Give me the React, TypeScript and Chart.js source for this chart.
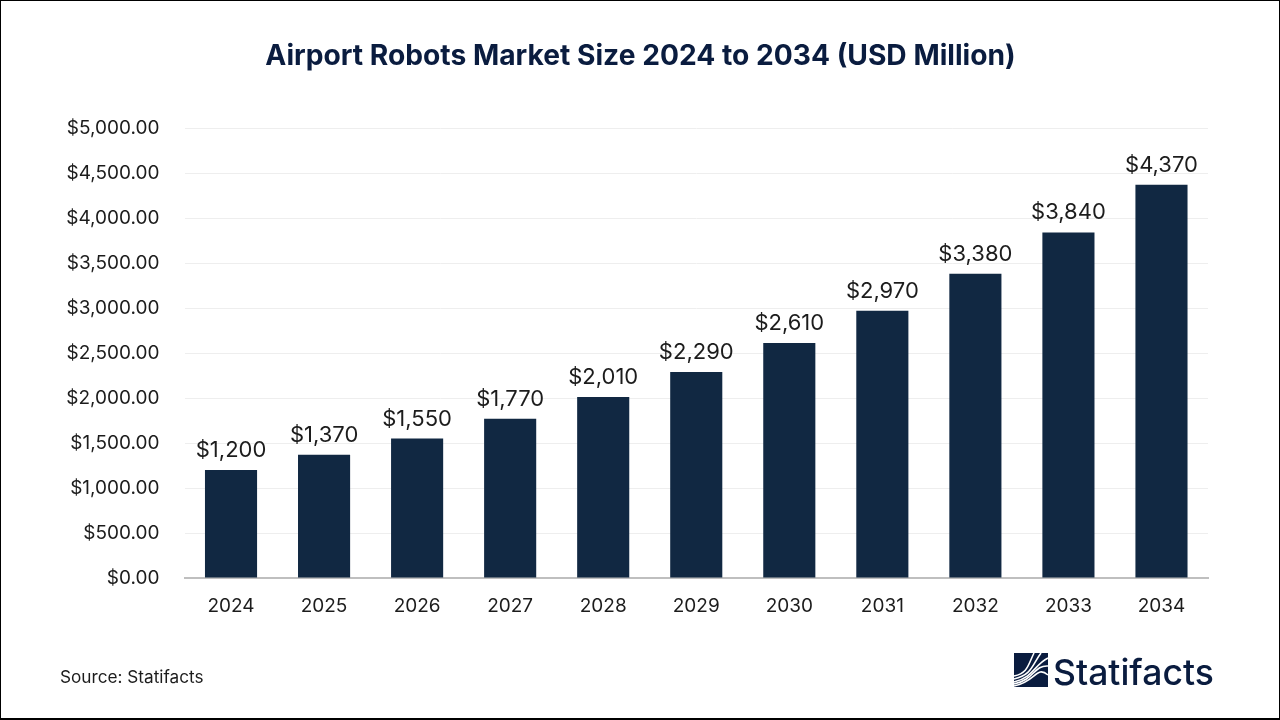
import React, { useEffect, useRef } from "react";
import { Chart, registerables } from "chart.js";

Chart.register(...registerables);

const titleText = "Airport Robots Market Size 2024 to 2034 (USD Million)";
const sourceText = "Source: Statifacts";
const brandText = "Statifacts";
const categories = ["2024", "2025", "2026", "2027", "2028", "2029", "2030", "2031", "2032", "2033", "2034"];
const marketSize = [1200, 1370, 1550, 1770, 2010, 2290, 2610, 2970, 3380, 3840, 4370];
const yMax = 5000;
const yStep = 500;

const FONT = "Inter, 'Noto Sans', sans-serif";
const NAVY = "#0a1c3f";
const BAR = "#112842";
const TEXT = "#1c1c1c";

const money = (v: number) => "$" + v.toLocaleString("en-US");
const moneyDec = (v: number) =>
  "$" + v.toLocaleString("en-US", { minimumFractionDigits: 2, maximumFractionDigits: 2 });

const overlayPlugin = {
  id: "overlay",
  afterDatasetsDraw(chart: any) {
    const { ctx, scales } = chart;
    ctx.save();
    ctx.textBaseline = "alphabetic";
    // title, centred on the page rather than on the plot
    ctx.fillStyle = NAVY;
    ctx.font = `bold 28.2px ${FONT}`;
    ctx.textAlign = "center";
    ctx.fillText(titleText, 640.5, 65);
    // value labels
    ctx.fillStyle = TEXT;
    ctx.font = `22px ${FONT}`;
    marketSize.forEach((v, i) => {
      ctx.fillText(money(v), scales.x.getPixelForValue(i), scales.y.getPixelForValue(v) - 13);
    });
    // source
    ctx.font = `17.2px ${FONT}`;
    ctx.textAlign = "left";
    ctx.fillText(sourceText, 60, 683);
    // brand
    ctx.fillStyle = NAVY;
    ctx.font = `500 35.5px ${FONT}`;
    ctx.fillText(brandText, 1053, 685);
    const x = 1014, y = 653, w = 34, h = 34;
    ctx.fillStyle = NAVY;
    ctx.fillRect(x, y, w, h);
    ctx.strokeStyle = "#ffffff";
    ctx.lineWidth = 1.6;
    const waves: number[][] = [
      [0, 23, 14, 20, 20, 0],
      [0, 26, 18, 22, 27, 0],
      [0, 29, 20, 24, 34, 5],
      [0, 31, 20, 27, 34, 13],
      [0, 33, 22, 29, 34, 22],
    ];
    waves.forEach((p) => {
      ctx.beginPath();
      ctx.moveTo(x + p[0], y + p[1]);
      ctx.bezierCurveTo(x + p[2], y + p[3], x + p[2], y + 12, x + p[4], y + p[5]);
      ctx.stroke();
    });
    ctx.restore();
  },
};

export default function App() {
  const ref = useRef<HTMLCanvasElement>(null);
  useEffect(() => {
    document.body.style.margin = "0";
    const chart = new Chart(ref.current as HTMLCanvasElement, {
      type: "bar",
      data: {
        labels: categories,
        datasets: [
          {
            label: "Market size",
            data: marketSize,
            backgroundColor: BAR,
            barPercentage: 0.56,
            categoryPercentage: 1,
          },
        ],
      },
      options: {
        animation: false,
        responsive: false,
        devicePixelRatio: 1,
        layout: { padding: { left: 39.5, right: 72, top: 128, bottom: 0 } },
        plugins: {
          legend: { display: false },
          tooltip: { enabled: false },
          title: { display: false },
        },
        scales: {
          x: {
            grid: { display: false, drawTicks: false },
            border: { color: "#bfbfbf", width: 2 },
            ticks: { color: TEXT, font: { family: FONT, size: 19 }, padding: 17, maxRotation: 0 },
            afterFit(s: any) {
              s.height = 142;
            },
          },
          y: {
            min: 0,
            max: yMax,
            grid: { color: "#eeeeee", lineWidth: 1, drawTicks: false },
            border: { display: false },
            ticks: {
              stepSize: yStep,
              color: TEXT,
              font: { family: FONT, size: 19 },
              padding: 25,
              callback: (v: any) => moneyDec(Number(v)),
            },
            afterFit(s: any) {
              s.width = 145;
            },
          },
        },
      },
      plugins: [overlayPlugin],
    } as any);
    return () => chart.destroy();
  }, []);
  return (
    <div style={{ position: "relative", width: 1280, height: 720, background: "#fff", overflow: "hidden" }}>
      <canvas ref={ref} width={1280} height={720} style={{ display: "block" }} />
      <div
        style={{
          position: "absolute",
          inset: 0,
          boxSizing: "border-box",
          borderTop: "1px solid #000",
          borderLeft: "1px solid #000",
          borderBottom: "2px solid #000",
          borderRight: "1px solid #000",
          pointerEvents: "none",
        }}
      />
    </div>
  );
}
